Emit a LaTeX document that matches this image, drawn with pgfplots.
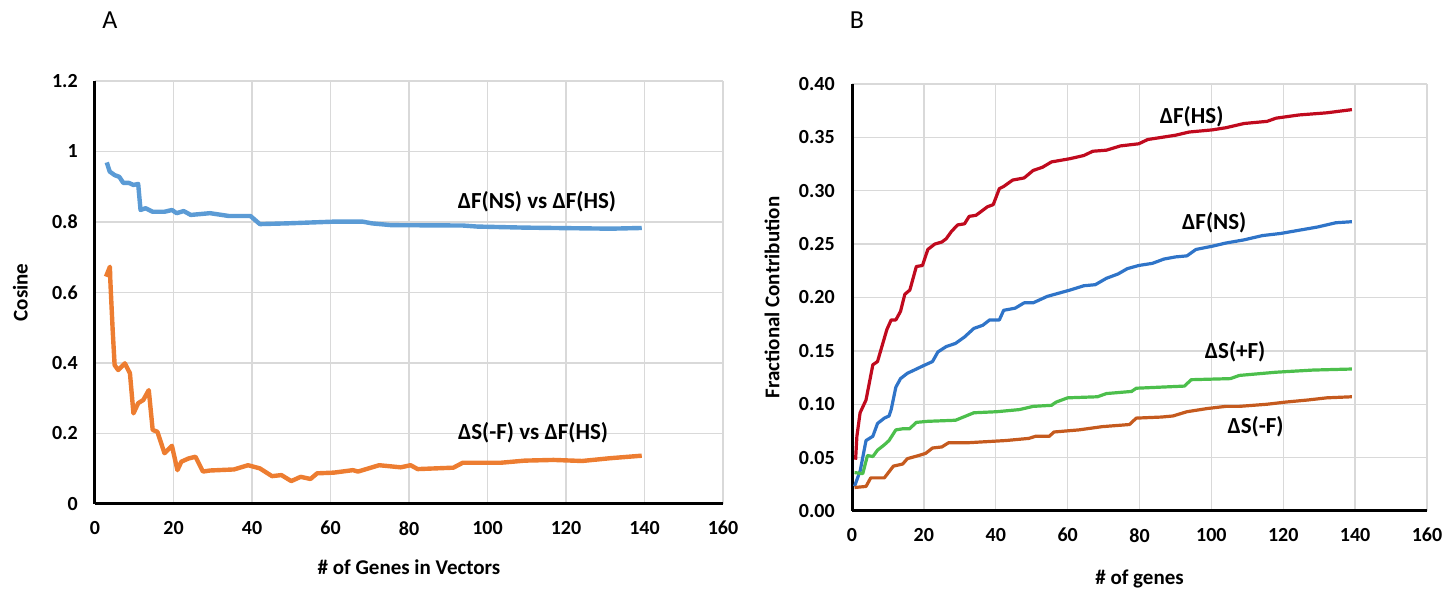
\documentclass[border=0pt]{standalone}
\usepackage{fontspec}
\setmainfont{Carlito}
\usepackage{pgfplots}
\pgfplotsset{compat=1.18}

\definecolor{gridc}{HTML}{D9D9D9}
\definecolor{ablue}{HTML}{5B9BD5}
\definecolor{aorange}{HTML}{ED7D31}
\definecolor{bred}{HTML}{C00A1E}
\definecolor{bblue}{HTML}{2F74C8}
\definecolor{bgreen}{HTML}{4CBF4C}
\definecolor{bbrown}{HTML}{C55A1E}

\tikzset{ann/.style={font=\fontsize{11.5}{13}\selectfont\bfseries}}

\pgfplotsset{
  panel/.style={
    scale only axis,
    axis lines=left,
    axis line style={black, line width=1.5pt, -},
    grid=major,
    grid style={gridc, line width=0.7pt},
    xmin=0, xmax=160,
    xtick={0,20,...,160},
    tick style={draw=none},
    tick label style={font=\fontsize{10}{12}\selectfont\bfseries},
    /pgf/number format/assume math mode=true,
    label style={font=\fontsize{10.5}{12}\selectfont\bfseries},
    xticklabel style={yshift=-3pt},
    yticklabel style={xshift=-3pt},
    every axis plot/.append style={no marks, line join=round},
  },
}

\begin{document}
\begin{tikzpicture}
\useasboundingbox (0,0) rectangle (725.5pt,296pt);

\node[font=\fontsize{13}{15}\selectfont] at (55pt,286pt) {A};
\node[font=\fontsize{13}{15}\selectfont] at (428.5pt,286pt) {B};

% Panel A
\begin{axis}[panel,
  at={(47.5pt,44pt)}, anchor=south west,
  width=314pt, height=211.5pt,
  ymin=0, ymax=1.2,
  ytick={0,0.2,...,1.2},
  yticklabels={0,0.2,0.4,0.6,0.8,1,1.2},
  xlabel={\# of Genes in Vectors},
  ylabel={Cosine},
  xlabel style={at={(axis description cs:0.5,-0.149)}, anchor=center},
  ylabel style={at={(axis description cs:-0.119,0.5)}, anchor=center},
]
\addplot[ablue, line width=2.2pt] coordinates {
(3,0.969) (3.75,0.943) (5,0.933) (6.2,0.928) (7.2,0.911) (8.6,0.911)
(9.8,0.905) (11,0.908) (11.6,0.834) (12.9,0.839) (14.7,0.829) (17.7,0.829)
(19.6,0.834) (20.8,0.825) (22.6,0.831) (24.4,0.820) (29.3,0.825) (34.1,0.817)
(39.6,0.817) (42,0.794) (48.7,0.796) (60.9,0.801) (68.2,0.801) (70.6,0.796)
(75.5,0.791) (93.7,0.790) (97.4,0.787) (109.5,0.784) (131.4,0.781) (139.3,0.783)
};
\addplot[aorange, line width=2.2pt] coordinates {
(2.8,0.645) (3.8,0.673) (3.9,0.635) (4.5,0.494) (5,0.394) (5.9,0.380)
(7.6,0.399) (8.9,0.371) (9.8,0.257) (11,0.286) (12.3,0.295) (13.7,0.323)
(14.7,0.210) (15.9,0.205) (17.7,0.144) (19.6,0.165) (21,0.096) (22,0.120)
(23.8,0.129) (25.6,0.134) (27.5,0.092) (29.3,0.095) (35.4,0.098) (39,0.110)
(42,0.101) (45.1,0.079) (47.5,0.082) (50,0.065) (52.4,0.077) (54.9,0.071)
(56.6,0.087) (60.9,0.089) (65.7,0.096) (67,0.092) (72.4,0.110) (77.9,0.104)
(80.4,0.110) (82.2,0.099) (91.3,0.103) (93.7,0.117) (103.4,0.117) (109.5,0.123)
(116.8,0.125) (124.1,0.122) (131.4,0.130) (139.3,0.137)
};
\node[ann] at (axis cs:112.6,0.857) {ΔF(NS) vs ΔF(HS)};
\node[ann] at (axis cs:111.6,0.202) {ΔS(-F) vs ΔF(HS)};
\end{axis}

% Panel B
\begin{axis}[panel,
  at={(426pt,40.5pt)}, anchor=south west,
  width=287.5pt, height=213.5pt,
  ymin=0, ymax=0.4,
  ytick={0,0.05,...,0.4},
  yticklabel={\pgfmathprintnumber[fixed,fixed zerofill,precision=2]{\tick}},
  xlabel={\# of genes},
  ylabel={Fractional Contribution},
  xlabel style={at={(axis description cs:0.5,-0.159)}, anchor=center},
  ylabel style={at={(axis description cs:-0.139,0.5)}, anchor=center},
]
\addplot[bred, line width=1.6pt] coordinates {
(1,0.048) (1.36,0.070) (2.25,0.092) (3.9,0.104) (5.8,0.137) (7.1,0.140)
(9.7,0.170) (10.9,0.179) (12.2,0.179) (13.5,0.187) (14.7,0.203) (16.1,0.207)
(17.9,0.229) (19.6,0.230) (21.1,0.245) (23,0.250) (25,0.252) (26.2,0.255)
(27.7,0.262) (29.4,0.268) (31.3,0.269) (32.6,0.276) (34.5,0.277) (36.5,0.282)
(37.7,0.285) (39.3,0.287) (41,0.302) (42.2,0.304) (44.7,0.310) (47.9,0.312)
(50.4,0.319) (53,0.322) (55.5,0.327) (60.6,0.330) (64.5,0.333) (67,0.337)
(70.8,0.338) (74.7,0.342) (79.8,0.344) (82.3,0.348) (90,0.352) (93.8,0.355)
(100.2,0.357) (104,0.359) (109.1,0.363) (115.5,0.365) (118,0.368) (124.4,0.371)
(132.1,0.373) (139.1,0.376)
};
\addplot[bblue, line width=1.6pt] coordinates {
(0.7,0.023) (2.3,0.038) (3.9,0.066) (5.8,0.070) (7.1,0.082) (9,0.087)
(10.3,0.089) (10.9,0.095) (12.2,0.116) (13.5,0.124) (15.4,0.129) (17.3,0.132)
(19.8,0.136) (22.4,0.140) (23.9,0.149) (26.2,0.154) (28.8,0.157) (31.3,0.163)
(33.9,0.171) (36.4,0.174) (38.3,0.179) (41,0.179) (42.2,0.188) (45.4,0.190)
(47.9,0.195) (50.4,0.195) (54.3,0.201) (60.7,0.207) (64.5,0.211) (67.7,0.212)
(70.8,0.218) (74,0.222) (76.6,0.227) (79.8,0.230) (83.6,0.232) (86.8,0.236)
(90,0.238) (93.2,0.239) (95.7,0.245) (100.2,0.248) (104,0.251) (109.1,0.254)
(114.2,0.258) (119.3,0.260) (124.4,0.263) (129.5,0.266) (134.6,0.270) (139.1,0.271)
};
\addplot[bgreen, line width=1.6pt] coordinates {
(0.7,0.036) (3,0.035) (4.3,0.052) (5.8,0.051) (7.1,0.057) (9,0.062)
(10.3,0.066) (12.2,0.076) (14.1,0.077) (16,0.077) (17.9,0.083) (21.1,0.084)
(28.8,0.085) (33.9,0.092) (40.3,0.093) (46.6,0.095) (50.4,0.098) (55.5,0.099)
(56.8,0.102) (60,0.106) (68.3,0.107) (70.8,0.110) (77.8,0.112) (79.1,0.115)
(92.5,0.117) (94.4,0.123) (105.3,0.124) (107.8,0.127) (118,0.130) (128.2,0.132)
(139.1,0.133)
};
\addplot[bbrown, line width=1.6pt] coordinates {
(0.7,0.022) (3.9,0.023) (5.2,0.031) (9,0.031) (11.5,0.042) (14.1,0.044)
(15.4,0.049) (18.6,0.052) (20.5,0.054) (22.4,0.059) (25,0.060) (26.9,0.064)
(32.6,0.064) (42.8,0.066) (49.2,0.068) (51.1,0.070) (54.9,0.070) (56.2,0.074)
(63.2,0.076) (69.6,0.079) (77.2,0.081) (79.1,0.087) (86.1,0.088) (89.3,0.089)
(93.2,0.093) (98.9,0.096) (104,0.098) (107.8,0.098) (115.5,0.100) (120.6,0.102)
(126.9,0.104) (132.1,0.106) (139.1,0.107)
};
\node[ann] at (axis cs:94.5,0.369) {ΔF(HS)};
\node[ann] at (axis cs:100.8,0.270) {ΔF(NS)};
\node[ann] at (axis cs:106.6,0.149) {ΔS(+F)};
\node[ann] at (axis cs:112.3,0.079) {ΔS(-F)};
\end{axis}
\end{tikzpicture}
\end{document}
